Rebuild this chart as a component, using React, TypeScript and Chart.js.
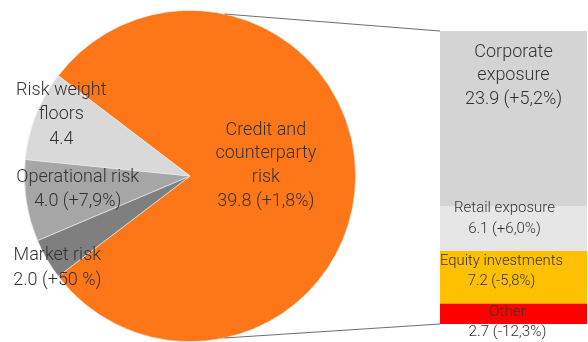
import React, { useEffect, useRef } from "react";
import { Chart, registerables } from "chart.js";

Chart.register(...registerables);

// ---------- Data ----------
const pieCategories = ["Credit and counterparty risk", "Market risk", "Operational risk", "Risk weight floors"];
const pieValues = [39.8, 2.0, 4.0, 4.4];
const pieChanges: (string | null)[] = ["+1,8%", "+50 %", "+7,9%", null];
const pieNameLines = [["Credit and", "counterparty", "risk"], ["Market risk"], ["Operational risk"], ["Risk weight", "floors"]];

const barCategories = ["Other", "Equity investments", "Retail exposure", "Corporate exposure"];
const barValues = [2.7, 7.2, 6.1, 23.9];
const barChanges = ["-12,3%", "-5,8%", "+6,0%", "+5,2%"];
const barNameLines = [["Other"], ["Equity investments"], ["Retail exposure"], ["Corporate", "exposure"]];

// ---------- Styles ----------
const W = 588;
const H = 342;
const FONT = "Roboto";
const TEXT = "#333333";
const pieColors = ["#fd7618", "#7f7f7f", "#a6a6a6", "#d9d9d9"];
const barColors = ["#fe0000", "#ffc000", "#e6e6e6", "#d4d4d4"];
// label anchors relative to pie centre, in units of radius
const pieLabelPos: [number, number][] = [
  [0.458, -0.063],
  [-0.801, 0.557],
  [-0.678, 0.084],
  [-0.777, -0.369],
];
const pieLabelLH = [23.7, 24.5, 24, 24.3];
// bar labels: [dx from bar centre, first line offset from segment top, line height, font size]
const barLabelStyle: [number, number, number, number][] = [
  [-6, 8, 20, 15.2],
  [-12, 10, 20, 14.8],
  [-9, 1.5, 21, 15],
  [0, 21, 23.5, 18],
];
const connectorAngles = [-78, 78];

const valueLine = (v: number, c: string | null) => (c ? `${v.toFixed(1)} (${c})` : v.toFixed(1));

export default function App() {
  const pieRef = useRef<HTMLCanvasElement | null>(null);
  const barRef = useRef<HTMLCanvasElement | null>(null);

  useEffect(() => {
    document.body.style.margin = "0";
    const pieTotal = pieValues.reduce((a, b) => a + b, 0);
    const barTotal = barValues.reduce((a, b) => a + b, 0);

    const pieLabels = {
      id: "pieLabels",
      afterDatasetsDraw(chart: any) {
        const ctx = chart.ctx;
        const arc = chart.getDatasetMeta(0).data[0];
        const cx = arc.x, cy = arc.y, r = arc.outerRadius;
        ctx.save();
        ctx.font = `300 18px ${FONT}`;
        ctx.fillStyle = TEXT;
        ctx.textAlign = "center";
        ctx.textBaseline = "middle";
        pieCategories.forEach((_, i) => {
          const lines = [...pieNameLines[i], valueLine(pieValues[i], pieChanges[i])];
          const [fx, fy] = pieLabelPos[i];
          const lh = pieLabelLH[i];
          const x = cx + fx * r;
          const y0 = cy + fy * r - ((lines.length - 1) * lh) / 2;
          lines.forEach((t, j) => ctx.fillText(t, x, y0 + j * lh));
        });
        ctx.restore();
      },
    };

    const pie = new Chart(pieRef.current!, {
      type: "pie",
      data: {
        labels: pieCategories,
        datasets: [
          {
            data: pieValues,
            backgroundColor: pieColors,
            borderColor: "rgba(235,235,235,0.8)",
            borderWidth: 0.8,
          },
        ],
      },
      options: {
        responsive: false,
        animation: false,
        rotation: 90 - (pieValues[0] / pieTotal) * 180,
        layout: { padding: { left: 24, right: 232, top: 10, bottom: 0 } },
        plugins: { legend: { display: false }, tooltip: { enabled: false } },
      },
      plugins: [pieLabels],
    });

    const barExtras = {
      id: "barExtras",
      afterDatasetsDraw(chart: any) {
        const ctx = chart.ctx;
        ctx.save();
        // connectors
        const arc = pie.getDatasetMeta(0).data[0] as any;
        const topEl = chart.getDatasetMeta(barValues.length - 1).data[0];
        const botEl = chart.getDatasetMeta(0).data[0];
        const left = topEl.x - topEl.width / 2;
        const targets = [topEl.y, botEl.base];
        ctx.strokeStyle = "#6f6f6f";
        ctx.lineWidth = 1.2;
        connectorAngles.forEach((a, i) => {
          const rad = (a * Math.PI) / 180;
          ctx.beginPath();
          ctx.moveTo(arc.x + arc.outerRadius * Math.cos(rad), arc.y + arc.outerRadius * Math.sin(rad));
          ctx.lineTo(left, targets[i]);
          ctx.stroke();
        });
        // labels
        ctx.fillStyle = TEXT;
        ctx.textAlign = "center";
        ctx.textBaseline = "middle";
        barCategories.forEach((_, i) => {
          const el = chart.getDatasetMeta(i).data[0];
          const [dx, oy, lh, fs] = barLabelStyle[i];
          ctx.font = `300 ${fs}px ${FONT}`;
          const lines = [...barNameLines[i], valueLine(barValues[i], barChanges[i])];
          lines.forEach((t, j) => ctx.fillText(t, el.x + dx, el.y + oy + j * lh));
        });
        ctx.restore();
      },
    };

    const bar = new Chart(barRef.current!, {
      type: "bar",
      data: {
        labels: [""],
        datasets: barCategories.map((c, i) => ({
          label: c,
          data: [barValues[i]],
          backgroundColor: barColors[i],
          borderWidth: 0,
          barPercentage: 1,
          categoryPercentage: 1,
        })),
      },
      options: {
        responsive: false,
        animation: false,
        layout: { padding: { left: 440, right: 1, top: 31, bottom: 18 } },
        scales: {
          x: { stacked: true, display: false },
          y: { stacked: true, display: false, min: 0, max: barTotal },
        },
        plugins: { legend: { display: false }, tooltip: { enabled: false } },
      },
      plugins: [barExtras],
    });

    return () => {
      bar.destroy();
      pie.destroy();
    };
  }, []);

  return (
    <div style={{ position: "fixed", left: 0, top: 0, width: W, height: H, background: "#fff" }}>
      <canvas ref={pieRef} width={W} height={H} style={{ position: "absolute", left: 0, top: 0 }} />
      <canvas ref={barRef} width={W} height={H} style={{ position: "absolute", left: 0, top: 0 }} />
    </div>
  );
}
